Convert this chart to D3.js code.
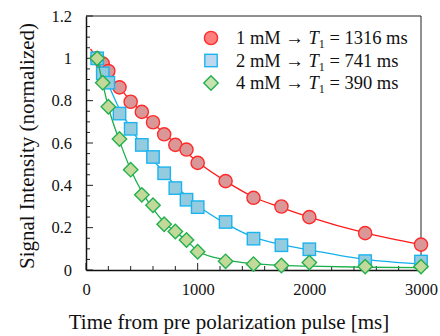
<!DOCTYPE html>
<html>
<head>
<meta charset="utf-8">
<script src="https://cdn.jsdelivr.net/npm/d3@7"></script>
<style>
  body { margin: 0; background: #fff; }
  text { font-family: "Liberation Serif", "DejaVu Serif", serif; fill: #111; }
</style>
</head>
<body>
<div id="chart"></div>
<script>
// sample times (ms)
const times = [100, 150, 200, 300, 400, 500, 600, 700, 800, 900, 1000, 1250, 1500, 1750, 2000, 2500, 3000];

// measured signal, normalized
const red1mM   = [1.0, 0.975, 0.94, 0.863, 0.795, 0.747, 0.698, 0.641, 0.591, 0.569, 0.506, 0.420, 0.341, 0.300, 0.250, 0.174, 0.120];
const blue2mM  = [1.0, 0.929, 0.885, 0.739, 0.667, 0.591, 0.534, 0.457, 0.387, 0.332, 0.297, 0.227, 0.148, 0.117, 0.098, 0.042, 0.040];
const green4mM = [1.0, 0.885, 0.771, 0.619, 0.474, 0.355, 0.306, 0.216, 0.182, 0.142, 0.086, 0.041, 0.028, 0.021, 0.035, 0.016, 0.016];

// fitted curves
const redFitT   = [40, 100, 200, 300, 400, 500, 600, 700, 800, 900, 1000, 1250, 1500, 1750, 2000, 2500, 3000];
const redFit    = [1.045, 1.0, 0.93, 0.862, 0.80, 0.745, 0.695, 0.645, 0.60, 0.555, 0.51, 0.42, 0.345, 0.295, 0.25, 0.175, 0.12];
const blueFitT  = [100, 150, 200, 300, 400, 500, 600, 700, 800, 900, 1000, 1250, 1500, 1750, 2000, 2500, 3000];
const blueFit   = [1.0, 0.93, 0.875, 0.76, 0.67, 0.59, 0.52, 0.46, 0.40, 0.35, 0.305, 0.22, 0.155, 0.12, 0.095, 0.05, 0.028];
const greenFitT = [100, 150, 200, 300, 400, 500, 600, 700, 800, 900, 1000, 1250, 1500, 1750, 2000, 2500, 3000];
const greenFit  = [1.0, 0.88, 0.77, 0.61, 0.475, 0.37, 0.29, 0.225, 0.18, 0.14, 0.09, 0.048, 0.03, 0.022, 0.018, 0.013, 0.011];

const xTicks = [0, 1000, 2000, 3000];
const yTicks = [0, 0.2, 0.4, 0.6, 0.8, 1, 1.2];
const legendLabels = [["1 mM", "1316"], ["2 mM", "741"], ["4 mM", "390"]];

const W = 440, H = 336;
const margin = { top: 16, right: 19, bottom: 66, left: 86 };
const width = W - margin.left - margin.right;
const height = H - margin.top - margin.bottom;

const svg = d3.select("#chart").append("svg")
  .attr("width", W).attr("height", H);
const g = svg.append("g")
  .attr("transform", "translate(" + margin.left + "," + margin.top + ")");

const x = d3.scaleLinear().domain([0, 3000]).range([0, width]);
const y = d3.scaleLinear().domain([0, 1.2]).range([height, 0]);

// frame (top + right)
g.append("line").attr("x1", 0).attr("x2", width).attr("y1", 0).attr("y2", 0)
  .attr("stroke", "#222").attr("stroke-width", 1);
g.append("line").attr("x1", width).attr("x2", width).attr("y1", 0).attr("y2", height)
  .attr("stroke", "#222").attr("stroke-width", 1);

// minor ticks
g.append("g").selectAll("line")
  .data(d3.range(0, 3001, 200))
  .enter().append("line")
  .attr("x1", d => x(d)).attr("x2", d => x(d))
  .attr("y1", height).attr("y2", d => height - (d % 1000 === 0 ? 7 : 4))
  .attr("stroke", "#222").attr("stroke-width", 1);
g.append("g").selectAll("line")
  .data(d3.range(0, 25).map(i => i * 0.05))
  .enter().append("line")
  .attr("y1", d => y(d)).attr("y2", d => y(d))
  .attr("x1", 0).attr("x2", (d, i) => (i % 4 === 0 ? 7 : 4))
  .attr("stroke", "#222").attr("stroke-width", 1);

// axes
const xAxis = g.append("g")
  .attr("transform", "translate(0," + height + ")")
  .call(d3.axisBottom(x).tickValues(xTicks).tickSize(0).tickPadding(13).tickFormat(d3.format("d")));
const yAxis = g.append("g")
  .call(d3.axisLeft(y).tickValues(yTicks).tickSize(0).tickPadding(14).tickFormat(d => d3.format("")(+d.toFixed(1))));
[xAxis, yAxis].forEach(a => {
  a.select(".domain").attr("stroke", "#111").attr("stroke-width", 1.5);
  a.selectAll("text").style("font-family", "'Liberation Serif', serif").style("font-size", "16.5px").attr("fill", "#111");
});

// series
const series = [
  { vals: red1mM, fitT: redFitT, fit: redFit, line: "#ff1a1a", stroke: "#ff2a2a", fill: "#da9797", legFill: "#ff7e7e", shape: "circle" },
  { vals: blue2mM, fitT: blueFitT, fit: blueFit, line: "#14b0ee", stroke: "#1cb4ef", fill: "#94cbde", legFill: "#bcd7ee", shape: "square" },
  { vals: green4mM, fitT: greenFitT, fit: greenFit, line: "#1caf4c", stroke: "#22b04e", fill: "#c2d99a", legFill: "#c8e2b2", shape: "diamond" }
];

function drawMarker(sel, shape, fill, stroke) {
  if (shape === "circle") {
    sel.append("circle").attr("r", 6.6);
  } else if (shape === "square") {
    sel.append("rect").attr("x", -6.2).attr("y", -6.2).attr("width", 12.4).attr("height", 12.4);
  } else {
    sel.append("path").attr("d", "M0,-7.2L7.2,0L0,7.2L-7.2,0Z");
  }
  sel.selectAll("circle,rect,path").attr("fill", fill).attr("stroke", stroke).attr("stroke-width", 1.4);
}

const line = d3.line().x(d => x(d[0])).y(d => y(d[1])).curve(d3.curveMonotoneX);

series.forEach(s => {
  g.append("path")
    .datum(s.fitT.map((t, i) => [t, s.fit[i]]))
    .attr("d", line)
    .attr("fill", "none").attr("stroke", s.line).attr("stroke-width", 1.3);
  g.append("g").selectAll("g")
    .data(times.map((t, i) => [t, s.vals[i]]))
    .enter().append("g")
    .attr("transform", d => "translate(" + x(d[0]) + "," + y(d[1]) + ")")
    .each(function () { drawMarker(d3.select(this), s.shape, s.fill, s.stroke); });
});

// legend
const leg = svg.append("g");
legendLabels.forEach((lab, i) => {
  const cy = 38 + i * 22.5;
  const m = leg.append("g").attr("transform", "translate(211," + cy + ")");
  drawMarker(m, series[i].shape, series[i].legFill, series[i].stroke);
  const t = leg.append("text").attr("x", 236).attr("y", cy + 6).style("font-size", "18.5px");
  t.append("tspan").text(lab[0] + " \u2192 ");
  t.append("tspan").style("font-style", "italic").text("T");
  t.append("tspan").attr("dy", 4).style("font-size", "12px").text("1");
  t.append("tspan").attr("dy", -4).text(" = " + lab[1] + " ms");
});

// axis titles
svg.append("text")
  .attr("x", 229).attr("y", 329)
  .attr("text-anchor", "middle").style("font-size", "21px")
  .text("Time from pre polarization pulse [ms]");
svg.append("text")
  .attr("transform", "translate(34,146) rotate(-90)")
  .attr("text-anchor", "middle").style("font-size", "21px")
  .text("Signal Intensity (normalized)");
</script>
</body>
</html>
